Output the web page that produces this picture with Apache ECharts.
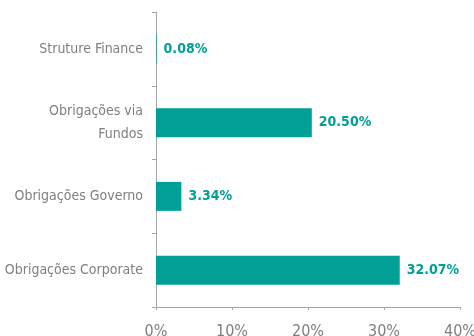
<!DOCTYPE html>
<html>
<head>
<meta charset="utf-8">
<script src="https://cdn.jsdelivr.net/npm/echarts@6/dist/echarts.min.js"></script>
<style>
  html, body { margin: 0; padding: 0; background: #fff; }
  #chart { width: 474px; height: 336px; }
</style>
</head>
<body>
<div id="chart"></div>
<script>
// Asset allocation by bond type (percent of portfolio)
const categories = ['Struture Finance', 'Obrigações via\nFundos', 'Obrigações Governo', 'Obrigações Corporate'];
const shares = [0.08, 20.50, 3.34, 32.07];
const axisTicks = [0, 10, 20, 30, 40];

const teal = '#00A096';
const grey = '#7f7f7f';
const axisGrey = '#a6a6a6';
const narrow = '"DejaVu Sans Condensed", "Liberation Sans", sans-serif';

const chart = echarts.init(document.getElementById('chart'), null, { renderer: 'canvas' });
chart.setOption({
  animation: false,
  grid: {
    left: 156, right: 14, top: 12, bottom: 29,
    containLabel: false,
    outerBoundsMode: 'none'
  },
  xAxis: {
    type: 'value',
    min: axisTicks[0],
    max: axisTicks[axisTicks.length - 1],
    interval: axisTicks[1] - axisTicks[0],
    splitLine: { show: false },
    axisLine: { show: true, lineStyle: { color: axisGrey, width: 1 } },
    axisTick: { show: true, length: 3, lineStyle: { color: axisGrey } },
    axisLabel: {
      formatter: v => v + '%',
      color: grey,
      fontFamily: narrow,
      fontSize: 16,
      margin: 17
    }
  },
  yAxis: {
    type: 'category',
    data: categories,
    inverse: true,
    axisLine: { show: true, lineStyle: { color: axisGrey, width: 1 } },
    axisTick: { show: true, length: 4, lineStyle: { color: axisGrey } },
    axisLabel: {
      color: grey,
      fontFamily: narrow,
      fontSize: 14,
      lineHeight: 23,
      margin: 13,
      align: 'right'
    }
  },
  series: [{
    type: 'bar',
    data: shares,
    barWidth: 29,
    itemStyle: { color: teal },
    label: {
      show: true,
      position: 'right',
      distance: 7,
      formatter: p => p.value.toFixed(2) + '%',
      color: teal,
      fontFamily: narrow,
      fontWeight: 'bold',
      fontSize: 14
    }
  }]
});
</script>
</body>
</html>
